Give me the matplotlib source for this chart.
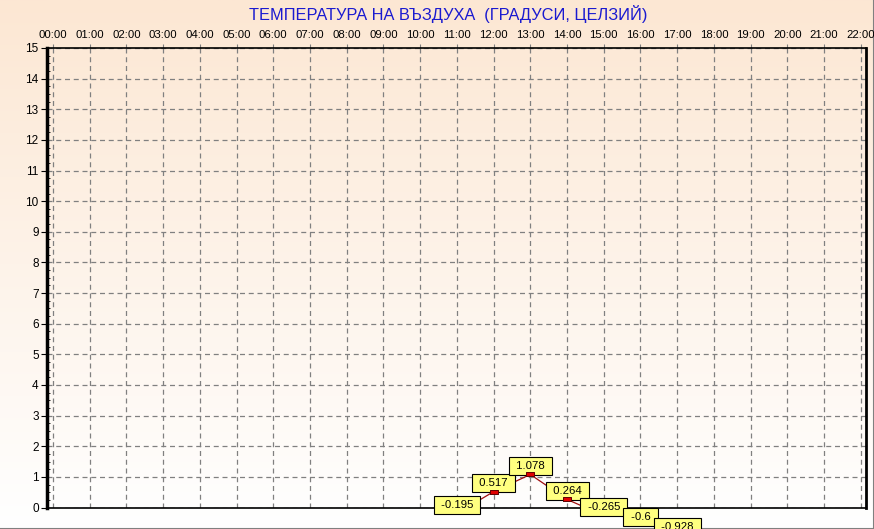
import matplotlib.pyplot as plt
import matplotlib.ticker as mticker
import numpy as np

# data
hours = [11, 12, 13, 14, 15, 16, 17]
temps = [-0.195, 0.517, 1.078, 0.264, -0.265, -0.6, -0.928]
hour_labels = [f"{h:02d}:00" for h in range(23)]
y_ticks = list(range(16))

title = "ТЕМПЕРАТУРА НА ВЪЗДУХА  (ГРАДУСИ, ЦЕЛЗИЙ)"

plt.rcParams['font.family'] = ['Liberation Sans', 'DejaVu Sans']

W, H = 874, 529
fig = plt.figure(figsize=(W / 100, H / 100), dpi=100)

# background gradient, peach at top fading to white
bg = fig.add_axes([0, 0, 1, 1], zorder=-10)
top = np.array([252, 231, 211]) / 255.0
bot = np.array([255, 255, 255]) / 255.0
t = np.linspace(0, 1, 256)[:, None]
grad = top[None, :] * (1 - t) + bot[None, :] * t
bg.imshow(grad[:, None, :], aspect='auto', extent=[0, 1, 0, 1])
bg.set_xlim(0, 1)
bg.set_ylim(0, 1)
bg.axis('off')
# thin grey frame on right and bottom
bg.plot([0, 1], [0.5 / H, 0.5 / H], color='#808080', lw=1.5)
bg.plot([1 - 0.5 / W, 1 - 0.5 / W], [0, 1], color='#808080', lw=1.5)

left, right, top_px, bottom_px = 47, 866, 48, 507.5
ax = fig.add_axes([left / W, 1 - bottom_px / H, (right - left) / W, (bottom_px - top_px) / H])
ax.patch.set_alpha(0)

ax.plot(hours, temps, color='#a01010', lw=0.9, zorder=3)
rect = [(-1, -0.55), (1, -0.55), (1, 0.55), (-1, 0.55), (-1, -0.55)]
ax.plot(hours, temps, ls='none', marker=rect, ms=6, mfc='#e00000',
        mec='#600000', mew=0.7, zorder=6)

for h, v in zip(hours, temps):
    ax.annotate(f" {v:g} ", xy=(h, v), xytext=(0, 2.6), textcoords='offset points',
                ha='center', va='bottom', fontsize=8.2, color='black',
                annotation_clip=False, clip_on=False, zorder=5,
                bbox=dict(boxstyle='square,pad=0.36', fc='#ffff80', ec='black', lw=0.8))

ax.set_xlim(-0.16, 22.14)
ax.set_ylim(0, 15)

ax.set_xticks(range(23))
ax.set_xticklabels(hour_labels)
ax.xaxis.tick_top()
ax.tick_params(axis='x', top=True, bottom=False, direction='out', length=3,
               color='#808080', labelsize=8.2, pad=2.5)
ax.set_yticks(y_ticks)
ax.tick_params(axis='y', direction='out', length=4, color='black', labelsize=8.5, pad=2)
ax.yaxis.set_minor_locator(mticker.MultipleLocator(0.25))
ax.tick_params(axis='y', which='minor', direction='in', length=2, color='black')

ax.grid(True, color='#808080', ls=(0, (4, 3)), lw=0.9)
ax.set_axisbelow(True)

ax.spines['left'].set_linewidth(2.5)
ax.spines['right'].set_linewidth(2)
ax.spines['top'].set_linestyle((0, (4, 1)))
ax.spines['bottom'].set_linestyle((0, (4, 1)))
ax.spines['top'].set_linewidth(1.2)
ax.spines['bottom'].set_linewidth(1.2)

fig.text(448 / W, 1 - 14 / H, title, ha='center', va='center',
         fontsize=11.8, color='#1a1ad0')

fig.savefig('out.png', dpi=100)
